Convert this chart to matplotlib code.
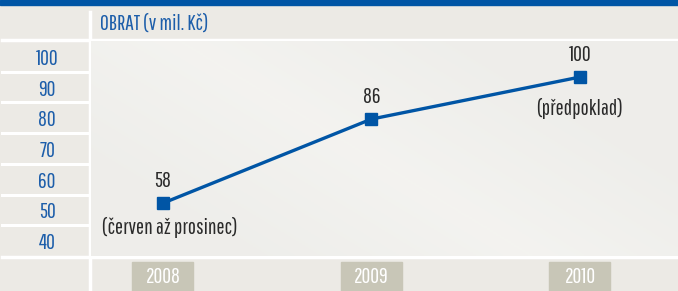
import matplotlib
matplotlib.use("Agg")
import matplotlib.pyplot as plt
import matplotlib.transforms as mtransforms
from matplotlib.patches import Rectangle
from matplotlib.lines import Line2D
from matplotlib import font_manager
import numpy as np

years = [2008, 2009, 2010]
values = [58, 86, 100]
value_labels = ["58", "86", "100"]
notes = ["(červen až prosinec)", "", "(předpoklad)"]
tick_values = [100, 90, 80, 70, 60, 50, 40]
title = "OBRAT (v mil. Kč)"

names = {f.name for f in font_manager.fontManager.ttflist}
fam = [n for n in ["Pathway Gothic One", "Roboto Condensed", "DejaVu Sans"] if n in names]
plt.rcParams["font.family"] = fam

W, H = 678, 291
fig = plt.figure(figsize=(W / 100, H / 100), dpi=100)
fig.patch.set_facecolor("#ECEAE5")

def fx(px):
    return px / W

def fy(py):
    return 1 - py / H

BLUE = "#0055A5"
TICKBLUE = "#1D5EAA"
DARK = "#2A2A2A"
FS = 15.5

# top bar
fig.patches.append(Rectangle((0, fy(5)), 1, 5 / H, transform=fig.transFigure, color=BLUE, zorder=5))

top, bottom = 41, 256
ax = fig.add_axes([fx(91), fy(bottom), fx(W - 91), (bottom - top) / H])
axl = fig.add_axes([0, fy(bottom), fx(89), (bottom - top) / H])
ax.set_zorder(2)

ax.set_xlim(2007.655, 2010.47)
ax.set_ylim(40.4, 112)
# subtle gradient background
gx, gy = np.meshgrid(np.linspace(0, 1, 200), np.linspace(0, 1, 100))
d = np.abs((gx * 1.0 + (1 - gy) * 0.6) - 0.75)
shade = 0.935 + 0.02 * np.clip(1 - d * 2.2, 0, 1)
img = np.dstack([shade, shade * 0.998, shade * 0.985])
ax.imshow(img, extent=(2007.655, 2010.47, 40.4, 112), aspect="auto", origin="upper", zorder=0)
for s in ax.spines.values():
    s.set_visible(False)
ax.set_xticks([])
ax.set_yticks([])

ax.plot(years, values, color=BLUE, lw=2.4, marker="s", ms=8.4, zorder=3, solid_capstyle="butt")

for x, v, lab in zip(years, values, value_labels):
    ax.annotate(lab, (x, v), xytext=(0, 22), textcoords="offset pixels", ha="center", va="center",
                fontsize=FS, color=DARK, annotation_clip=False)
note_offsets = [(7, -24), (0, 0), (0, -31)]
for x, v, n, off in zip(years, values, notes, note_offsets):
    if n:
        ax.annotate(n, (x, v), xytext=off, textcoords="offset pixels", ha="center", va="center",
                    fontsize=FS, color=DARK, annotation_clip=False)

# left column
axl.set_xlim(0, 1)
axl.set_ylim(35, 105)
axl.set_facecolor("#ECEAE5")
for s in axl.spines.values():
    s.set_visible(False)
axl.set_xticks([])
axl.set_yticks([])
for t in tick_values:
    axl.text(0.53, t - 0.8, str(t), ha="center", va="center", color=TICKBLUE, fontsize=FS)
for b in np.arange(45, 100, 10):
    axl.axhline(b, xmin=0.02, xmax=1, color="white", lw=2.2)

# white grid lines in figure coords
fig.add_artist(Line2D([fx(2), 1], [fy(40), fy(40)], color="white", lw=2.5, transform=fig.transFigure))
fig.add_artist(Line2D([fx(2), 1], [fy(257), fy(257)], color="white", lw=2.5, transform=fig.transFigure))
fig.add_artist(Line2D([fx(90), fx(90)], [fy(12), 0], color="white", lw=2.5, transform=fig.transFigure))

fig.text(fx(100), fy(24), title, ha="left", va="center", color=TICKBLUE, fontsize=FS)

# year boxes
trans = mtransforms.blended_transform_factory(ax.transData, fig.transFigure)
bw = 61 / 208.5
for x in years:
    ax.add_patch(Rectangle((x - bw / 2, 0), bw, fy(262), transform=trans, color="#C8C6B7",
                           clip_on=False, zorder=4))
    ax.text(x, fy(277), str(x), transform=trans, ha="center", va="center", color="white",
            fontsize=FS, zorder=5, clip_on=False)

fig.savefig("out.png", dpi=100, facecolor=fig.get_facecolor())
